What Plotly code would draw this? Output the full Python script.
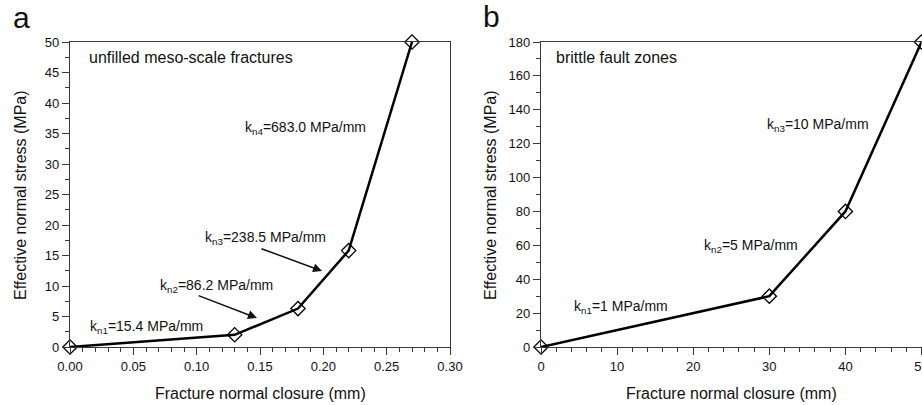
import plotly.graph_objects as go

# ---- data ----
closure_a = [0.0, 0.13, 0.18, 0.22, 0.27]          # mm
stress_a = [0.0, 2.0, 6.3, 15.8, 50.0]             # MPa
closure_b = [0, 30, 40, 50]                        # mm
stress_b = [0, 30, 80, 180]                        # MPa

labels_a = ["k<sub>n1</sub>=15.4 MPa/mm", "k<sub>n2</sub>=86.2 MPa/mm",
            "k<sub>n3</sub>=238.5 MPa/mm", "k<sub>n4</sub>=683.0 MPa/mm"]
labels_b = ["k<sub>n1</sub>=1 MPa/mm", "k<sub>n2</sub>=5 MPa/mm", "k<sub>n3</sub>=10 MPa/mm"]

FONT = "Liberation Sans, Arial, sans-serif"
W, H = 922, 405
LINE = "#3a3a3a"

def px_x(p):
    return p / W

def px_y(p):
    return 1 - p / H

fig = go.Figure()

for xs, ys, xa, ya in [(closure_a, stress_a, "x", "y"), (closure_b, stress_b, "x2", "y2")]:
    fig.add_trace(go.Scatter(
        x=xs, y=ys, xaxis=xa, yaxis=ya, mode="lines+markers",
        line=dict(color="black", width=2.5),
        marker=dict(symbol="diamond-open", size=11, color="black", line=dict(width=1.3, color="black")),
        cliponaxis=False, showlegend=False, hoverinfo="x+y"))

common_axis = dict(showline=True, linecolor=LINE, linewidth=1.2, mirror=True,
                   ticks="outside", ticklen=7, tickwidth=1.2, tickcolor=LINE,
                   showgrid=False, zeroline=False, automargin=False,
                   ticklabeloverflow="allow",
                   tickfont=dict(family=FONT, size=13, color="#111"))

y_dom = [px_y(347), px_y(42)]

fig.update_layout(
    width=W, height=H, margin=dict(l=0, r=0, t=0, b=0, autoexpand=False),
    paper_bgcolor="white", plot_bgcolor="white",
    font=dict(family=FONT, color="#111"),
    xaxis=dict(domain=[px_x(70), px_x(450)], range=[0, 0.30], dtick=0.05, tickformat=".2f",
               minor=dict(dtick=0.01, ticks="outside", ticklen=4, tickcolor=LINE, showgrid=False),
               anchor="y", **common_axis),
    yaxis=dict(domain=y_dom, range=[0, 50], dtick=5,
               minor=dict(dtick=2.5, ticks="outside", ticklen=4, tickcolor=LINE, showgrid=False),
               anchor="x", **common_axis),
    xaxis2=dict(domain=[px_x(541), px_x(921.5)], range=[0, 50], dtick=10,
                minor=dict(dtick=2, ticks="outside", ticklen=4, tickcolor=LINE, showgrid=False),
                anchor="y2", **common_axis),
    yaxis2=dict(domain=y_dom, range=[0, 180], dtick=20,
                minor=dict(dtick=10, ticks="outside", ticklen=4, tickcolor=LINE, showgrid=False),
                anchor="x2", **common_axis),
)

ann = []
def txt(text, x, y, xref, yref, size=14, xanchor="left", yanchor="middle", angle=0):
    ann.append(dict(text=text, x=x, y=y, xref=xref, yref=yref, showarrow=False,
                    xanchor=xanchor, yanchor=yanchor, textangle=angle,
                    font=dict(family=FONT, size=size, color="#111")))

# panel letters
txt("a", px_x(21), px_y(18), "paper", "paper", size=30, xanchor="center")
txt("b", px_x(491), px_y(17), "paper", "paper", size=30, xanchor="center")

# axis titles
txt("Fracture normal closure (mm)", px_x(260), px_y(393), "paper", "paper", size=16, xanchor="center")
txt("Fracture normal closure (mm)", px_x(731), px_y(393), "paper", "paper", size=16, xanchor="center")
txt("Effective normal stress (MPa)", px_x(21), px_y(195), "paper", "paper", size=16, xanchor="center", angle=-90)
txt("Effective normal stress (MPa)", px_x(491), px_y(195), "paper", "paper", size=16, xanchor="center", angle=-90)

# panel a labels
txt("unfilled meso-scale fractures", 0.0134, 47.5, "x", "y", size=16)
txt(labels_a[0], 0.0142, 3.3, "x", "y")
txt(labels_a[1], 0.0695, 10.0, "x", "y")
txt(labels_a[2], 0.105, 17.9, "x", "y")
txt(labels_a[3], 0.1366, 35.9, "x", "y")

# panel b labels
txt("brittle fault zones", 1.71, 171.1, "x2", "y2", size=16)
txt(labels_b[0], 4.07, 23.6, "x2", "y2")
txt(labels_b[1], 21.2, 59.6, "x2", "y2")
txt(labels_b[2], 29.4, 131, "x2", "y2")

# arrows (panel a)
for head, tail in [((0.1476, 4.75), (0.1003, 8.52)), ((0.199, 12.46), (0.150, 16.2))]:
    ann.append(dict(x=head[0], y=head[1], ax=tail[0], ay=tail[1], xref="x", yref="y",
                    axref="x", ayref="y", showarrow=True, arrowhead=2, arrowsize=1.2,
                    arrowwidth=1.5, arrowcolor="#111", text=""))

fig.update_layout(annotations=ann)
fig.write_html("out.html")
